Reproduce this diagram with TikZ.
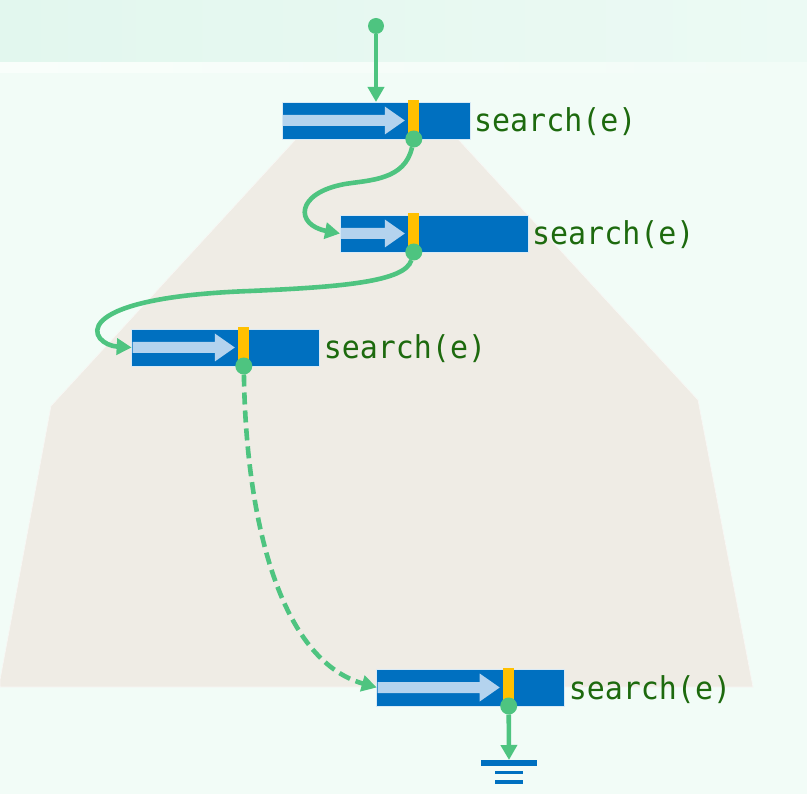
\documentclass[tikz,border=0pt]{standalone}
\usepackage{fontspec}
\newfontfamily\monofont[FakeStretch=0.95]{DejaVu Sans Mono}
\usetikzlibrary{arrows.meta,shadings}
\definecolor{bgc}{HTML}{F2FCF7}
\definecolor{bandl}{HTML}{E2F7EE}
\definecolor{bandr}{HTML}{ECFAF4}
\definecolor{strip}{HTML}{F9FEFB}
\definecolor{trap}{HTML}{EFECE5}
\definecolor{blkblue}{HTML}{0070C0}
\definecolor{lblue}{HTML}{B4D3EE}
\definecolor{ybar}{HTML}{FFC000}
\definecolor{gline}{HTML}{4EC480}
\definecolor{txtg}{HTML}{1D6A0E}
\tikzset{
  blk/.style={rectangle, fill=blkblue, draw=white!85!blkblue, line width=0.8pt,
    minimum width=188pt, minimum height=37pt, inner sep=0pt, outer sep=0pt},
  lightarrow/.style={fill=lblue},
  barcol/.style={fill=ybar},
  lbl/.style={text=txtg, font=\monofont\fontsize{31.5}{36}\selectfont, inner sep=0pt},
  dot/.style={circle, fill=gline, minimum size=17pt, inner sep=0pt, outer sep=0pt},
  conn/.style={draw=gline, line width=4.6pt, -{Triangle[width=16pt,length=15pt]}},
  ground/.style={fill=blkblue}
}
\newcommand\blockrow[5]{%
  \node[blk, anchor=west] (#1) at (#2,#3) {};
  \fill[lightarrow] (#2+0.8,#3-5.5) -- (#4-29,#3-5.5) -- (#4-29,#3-14) -- (#4-9,#3)
     -- (#4-29,#3+14) -- (#4-29,#3+5.5) -- (#2+0.8,#3+5.5) -- cycle;
  \fill[barcol] (#4-5.5,#3-20) rectangle (#4+5.5,#3+18.5);
  \node[lbl, anchor=base west] (#1l) at (#2+192,#3+11.5) {search(e)};
  \node[dot] (#5) at (#4,#3+18.5) {};
}
\begin{document}
\begin{tikzpicture}[x=1pt,y=-1pt]
\useasboundingbox (0,0) rectangle (807,794);
% background
\fill[bgc] (0,0) rectangle (807,794);
\shade[left color=bandl, right color=bandr] (0,0) rectangle (807,63);
\shade[left color=strip, right color=bgc] (0,63) rectangle (807,73);
% trapezoid
\fill[trap, draw=white!60!trap, line width=0.6pt] (322.6,110) -- (431.3,110) -- (698,400) -- (753,687)
   -- (0,687) -- (0,680) -- (51,406) -- cycle;
% blocks
\blockrow{b1}{282}{120.5}{413.8}{d1}
\blockrow{b2}{340}{233.5}{413.8}{d2}
\blockrow{b3}{131.7}{347.5}{243.8}{d3}
\blockrow{b4}{376.7}{687.5}{508.7}{d4}
% entry
\node[dot, minimum size=16pt] (d0) at (376,26) {};
% ground
\coordinate (g0) at (509,760);
\fill[ground] (481,760) rectangle (537,766);
\fill[ground] (495,770.5) rectangle (523,774);
\fill[ground] (495,780) rectangle (523,783.5);
% connectors
\draw[conn] (d0) -- (b1.north);
\draw[conn] (d1) .. controls (405,180) and (370,180) .. (345,184)
   .. controls (295,193) and (295,225) .. (b2.west);
\draw[conn] (d2) .. controls (405,282) and (340,287) .. (250,291)
   .. controls (60,298) and (90,345) .. (b3.west);
\draw[conn, dash pattern=on 12pt off 6pt] (d3) .. controls (246,520) and (280,660) .. (b4.west);
\draw[conn] (d4) -- (g0);
\end{tikzpicture}
\end{document}
